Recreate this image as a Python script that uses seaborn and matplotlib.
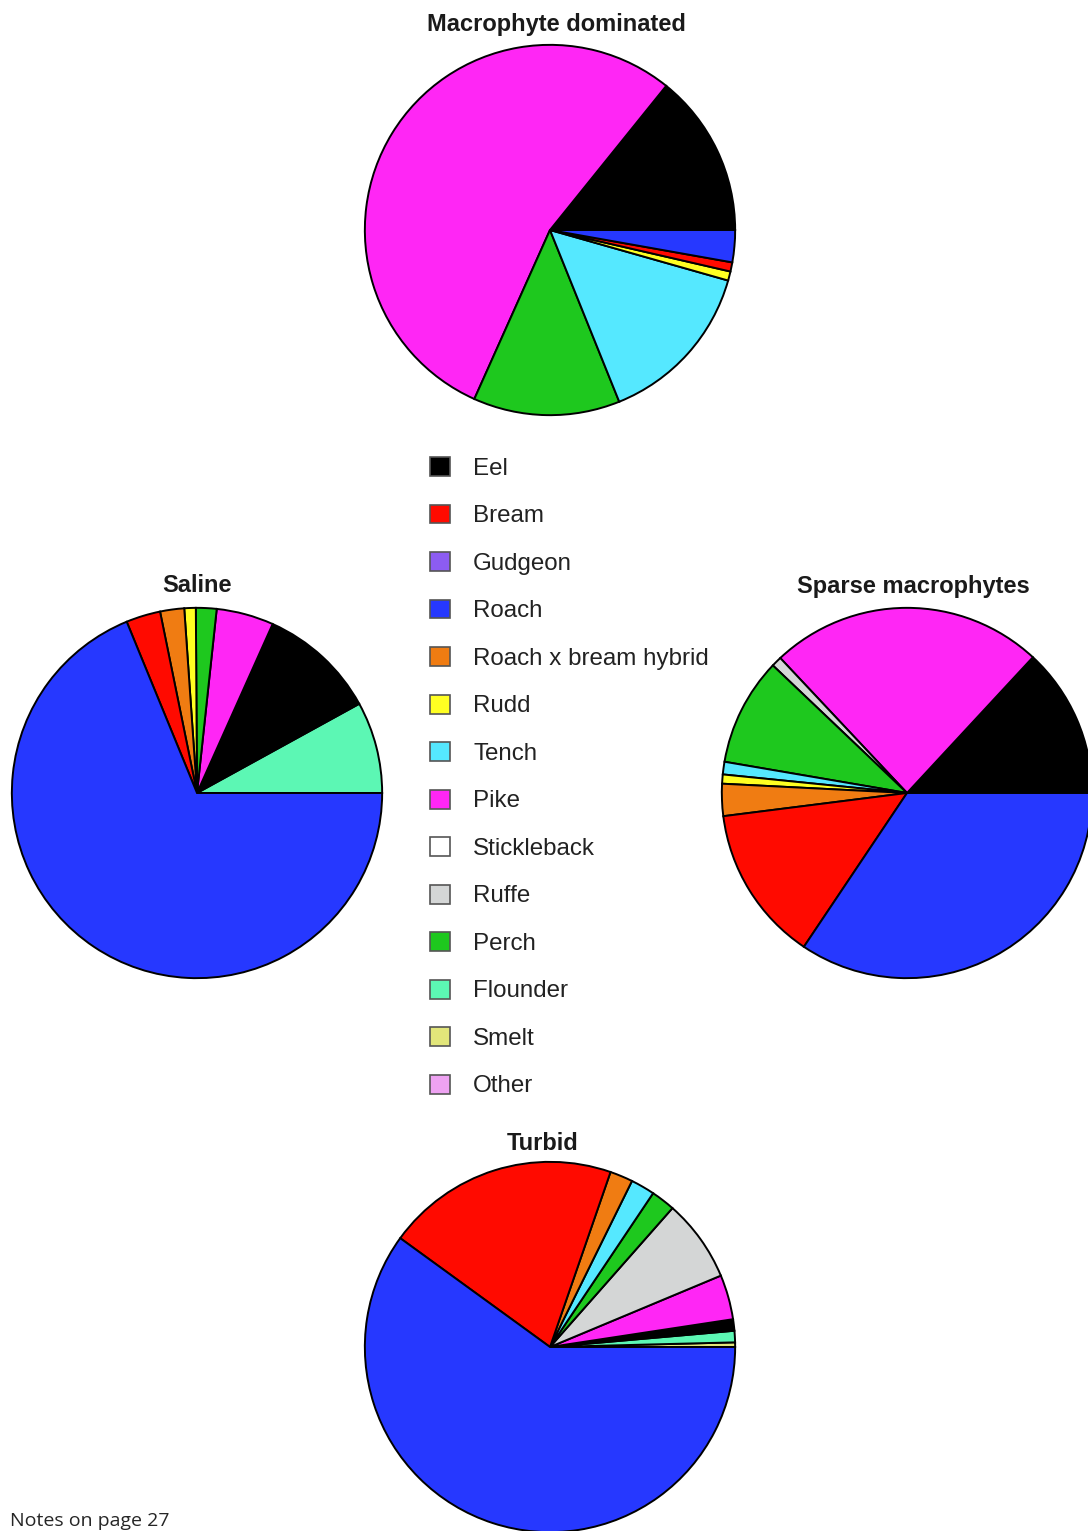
import matplotlib
matplotlib.use("Agg")
import matplotlib.pyplot as plt
from matplotlib.patches import Patch
import seaborn as sns

sns.set_style("white")
plt.rcParams["font.family"] = ["Liberation Sans", "DejaVu Sans"]

W, H = 1088, 1531

species = ["Eel", "Bream", "Gudgeon", "Roach", "Roach x bream hybrid", "Rudd",
           "Tench", "Pike", "Stickleback", "Ruffe", "Perch", "Flounder",
           "Smelt", "Other"]
species_colors = ["#000000", "#ff0a00", "#8c5cf2", "#2638ff", "#f07c12", "#ffff22",
                  "#55e8ff", "#ff26f5", "#ffffff", "#d4d6d6", "#1ec81e", "#5cf7b4",
                  "#e2e67a", "#eea2f2"]
color_of = dict(zip(species, species_colors))

# slices listed anticlockwise from 3 o'clock, values in % of catch
macro_species = ["Eel", "Pike", "Perch", "Tench", "Rudd", "Bream", "Roach"]
macro_share = [14.2, 54.1, 12.8, 14.5, 0.8, 0.8, 2.8]

saline_species = ["Flounder", "Eel", "Pike", "Perch", "Rudd", "Roach x bream hybrid", "Bream", "Roach"]
saline_share = [8.0, 10.3, 5.0, 1.8, 1.0, 2.1, 3.0, 68.8]

sparse_species = ["Eel", "Pike", "Ruffe", "Perch", "Tench", "Rudd", "Roach x bream hybrid", "Bream", "Roach"]
sparse_share = [13.1, 23.9, 0.9, 9.4, 1.1, 0.8, 2.8, 13.6, 34.4]

turbid_species = ["Smelt", "Flounder", "Eel", "Pike", "Ruffe", "Perch", "Tench", "Roach x bream hybrid", "Bream", "Roach"]
turbid_share = [0.4, 1.0, 1.0, 3.9, 7.2, 2.1, 2.1, 2.0, 20.3, 60.0]


def pie_at(fig, cx, cy, r, names, values, title, tx, ty):
    ax = fig.add_axes([(cx - r) / W, (H - cy - r) / H, 2 * r / W, 2 * r / H])
    ax.pie(values, colors=[color_of[n] for n in names], startangle=0,
           counterclock=True, radius=1,
           wedgeprops=dict(edgecolor="black", linewidth=1.4))
    ax.set_xlim(-1.01, 1.01)
    ax.set_ylim(-1.01, 1.01)
    ax.axis("off")
    fig.text(tx / W, 1 - ty / H, title, ha="center", va="center",
             fontsize=17, fontweight="bold", color="#1a1a1a")


fig = plt.figure(figsize=(W / 100, H / 100), dpi=100)

pie_at(fig, 550, 230, 187, macro_species, macro_share, "Macrophyte dominated", 556, 24)
pie_at(fig, 197, 793, 187, saline_species, saline_share, "Saline", 197, 586)
pie_at(fig, 907, 793, 187, sparse_species, sparse_share, "Sparse macrophytes", 913, 586)
pie_at(fig, 550, 1347, 187, turbid_species, turbid_share, "Turbid", 543, 1143)

handles = [Patch(facecolor=c, edgecolor="#555555", linewidth=1.2) for c in species_colors]
fig.legend(handles, species, loc="upper left",
           bbox_to_anchor=(430 / W, 1 - 457 / H), frameon=False,
           borderaxespad=0, borderpad=0,
           fontsize=17.4, handlelength=0.83, handleheight=0.83,
           handletextpad=0.95, labelspacing=1.02, labelcolor="#222222")

fig.text(10 / W, 1 - 1530 / H, "Notes on page 27", ha="left", va="bottom",
         fontsize=14, family=["Open Sans", "DejaVu Sans"])

fig.savefig("out.png", dpi=100)
